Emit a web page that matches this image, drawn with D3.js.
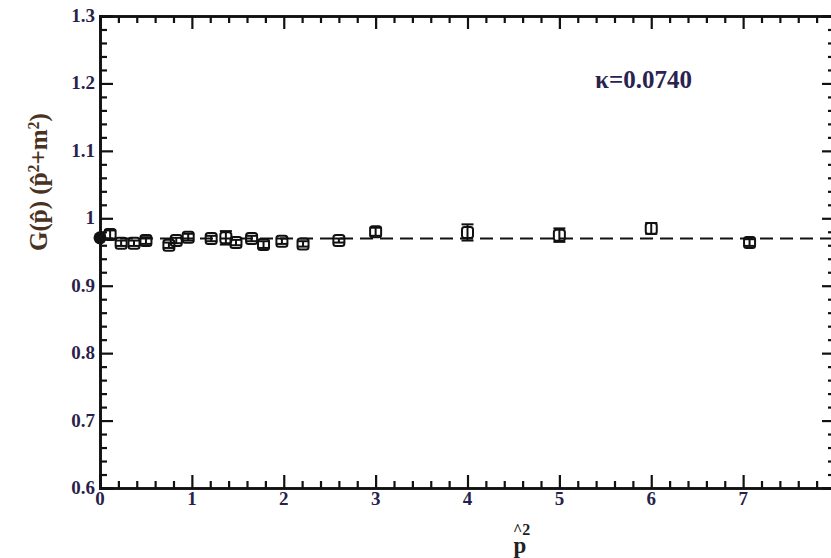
<!DOCTYPE html>
<html>
<head>
<meta charset="utf-8">
<script src="https://cdn.jsdelivr.net/npm/d3@7"></script>
<style>
  body { margin: 0; background: #fff; }
  svg { display: block; }
  text { font-family: "Liberation Serif", "Times New Roman", serif; font-weight: bold; }
</style>
</head>
<body>
<svg></svg>
<script>
// data
var p2 = [0.11, 0.23, 0.37, 0.5, 0.75, 0.83, 0.96, 1.21, 1.37, 1.48, 1.65, 1.78, 1.98, 2.21, 2.6, 3.0, 4.0, 5.0, 6.0, 7.07]
var gval = [0.976, 0.963, 0.963, 0.967, 0.960, 0.967, 0.972, 0.970, 0.971, 0.964, 0.970, 0.961, 0.966, 0.962, 0.967, 0.980, 0.979, 0.975, 0.985, 0.964]
var gerr = [0.006, 0.004, 0.004, 0.005, 0.004, 0.004, 0.005, 0.004, 0.010, 0.004, 0.004, 0.005, 0.004, 0.004, 0.003, 0.006, 0.012, 0.010, 0.008, 0.005]
var zeroPoint = [0, 0.971]
var fitLevel = 0.97
var xTicks = [0, 1, 2, 3, 4, 5, 6, 7, 8]
var yTicks = [0.6, 0.7, 0.8, 0.9, 1.0, 1.1, 1.2, 1.3]
var yTickLabels = ["0.6", "0.7", "0.8", "0.9", "1", "1.1", "1.2", "1.3"]

var width = 831
var height = 558
var plotL = 100, plotR = 835, plotT = 16, plotB = 488

var svg = d3.select("svg")
  .attr("width", width)
  .attr("height", height)

var x = d3.scaleLinear().domain([0, 8]).range([plotL, plotR])
var y = d3.scaleLinear().domain([0.6, 1.3]).range([plotB, plotT])

// minor ticks every 0.2 on x, 0.02 on y
var xMinor = d3.range(0, 8.001, 0.2).filter(function (v) { return Math.abs(v - Math.round(v)) > 1e-6 })
var yMinor = d3.range(0.6, 1.3001, 0.02).filter(function (v) { return Math.abs(v * 10 - Math.round(v * 10)) > 1e-6 })

function drawAxis(make, transform, major, minor) {
  [[major, -13], [minor, -7]].forEach(function (t) {
    var g = svg.append("g").attr("transform", transform)
      .call(make().tickValues(t[0]).tickSize(t[1]).tickFormat(""))
    g.selectAll("line").attr("stroke", "#111").attr("stroke-width", 2.2)
    g.select(".domain").attr("stroke", "#111").attr("stroke-width", 2.6)
  })
}
drawAxis(function () { return d3.axisBottom(x) }, "translate(0," + plotB + ")", xTicks, xMinor)
drawAxis(function () { return d3.axisTop(x) }, "translate(0," + plotT + ")", xTicks, xMinor)
drawAxis(function () { return d3.axisLeft(y) }, "translate(" + plotL + ",0)", yTicks, yMinor)
drawAxis(function () { return d3.axisRight(y) }, "translate(" + plotR + ",0)", yTicks, yMinor)

// tick labels
svg.append("g").selectAll("text")
  .data(xTicks.slice(0, 8))
  .enter().append("text")
  .attr("x", function (d) { return x(d) })
  .attr("y", plotB + 17)
  .attr("text-anchor", "middle")
  .attr("font-size", 19)
  .attr("fill", "#2a1f4a")
  .text(function (d) { return d })

svg.append("g").selectAll("text")
  .data(yTicks)
  .enter().append("text")
  .attr("x", plotL - 5)
  .attr("y", function (d) { return y(d) + 6 })
  .attr("text-anchor", "end")
  .attr("font-size", 19)
  .attr("fill", "#2a1f4a")
  .text(function (d, i) { return yTickLabels[i] })

// dashed fit line
svg.append("line")
  .attr("x1", x(0)).attr("x2", x(8))
  .attr("y1", y(fitLevel)).attr("y2", y(fitLevel))
  .attr("stroke", "#111")
  .attr("stroke-width", 2)
  .attr("stroke-dasharray", "13,7")

var pts = p2.map(function (v, i) { return { x: v, y: gval[i], e: gerr[i] } })

// error bars
var eb = svg.append("g").attr("stroke", "#111").attr("stroke-width", 2)
eb.selectAll(".bar").data(pts).enter().append("line")
  .attr("x1", function (d) { return x(d.x) }).attr("x2", function (d) { return x(d.x) })
  .attr("y1", function (d) { return y(d.y + d.e) }).attr("y2", function (d) { return y(d.y - d.e) })
eb.selectAll(".capt").data(pts).enter().append("line")
  .attr("x1", function (d) { return x(d.x) - 6 }).attr("x2", function (d) { return x(d.x) + 6 })
  .attr("y1", function (d) { return y(d.y + d.e) }).attr("y2", function (d) { return y(d.y + d.e) })
eb.selectAll(".capb").data(pts).enter().append("line")
  .attr("x1", function (d) { return x(d.x) - 6 }).attr("x2", function (d) { return x(d.x) + 6 })
  .attr("y1", function (d) { return y(d.y - d.e) }).attr("y2", function (d) { return y(d.y - d.e) })

// open squares
svg.append("g").selectAll("rect")
  .data(pts)
  .enter().append("rect")
  .attr("x", function (d) { return x(d.x) - 5.5 })
  .attr("y", function (d) { return y(d.y) - 5.5 })
  .attr("width", 11).attr("height", 11)
  .attr("rx", 2.5)
  .attr("fill", "none")
  .attr("stroke", "#111")
  .attr("stroke-width", 2)

// filled circle at p^2 = 0
svg.append("circle")
  .attr("cx", x(zeroPoint[0]))
  .attr("cy", y(zeroPoint[1]))
  .attr("r", 6.5)
  .attr("fill", "#111")

// kappa annotation
svg.append("text")
  .attr("x", 595).attr("y", 88)
  .attr("font-size", 25)
  .attr("fill", "#2a2350")
  .text("\u03ba=0.0740")

// y axis title
var yl = svg.append("text")
  .attr("transform", "translate(47,182) rotate(-90)")
  .attr("text-anchor", "middle")
  .attr("font-size", 25)
  .attr("fill", "#4a3222")
yl.append("tspan").text("G(p\u0302)  (p\u0302")
yl.append("tspan").attr("baseline-shift", "super").attr("font-size", 16).text("2")
yl.append("tspan").text("+m")
yl.append("tspan").attr("baseline-shift", "super").attr("font-size", 16).text("2")
yl.append("tspan").text(")")

// x axis title
svg.append("text")
  .attr("x", 520).attr("y", 553)
  .attr("text-anchor", "middle")
  .attr("font-size", 23)
  .attr("fill", "#222")
  .text("p")
svg.append("text")
  .attr("x", 513).attr("y", 535)
  .attr("font-size", 16)
  .attr("fill", "#222")
  .text("^2")
</script>
</body>
</html>
